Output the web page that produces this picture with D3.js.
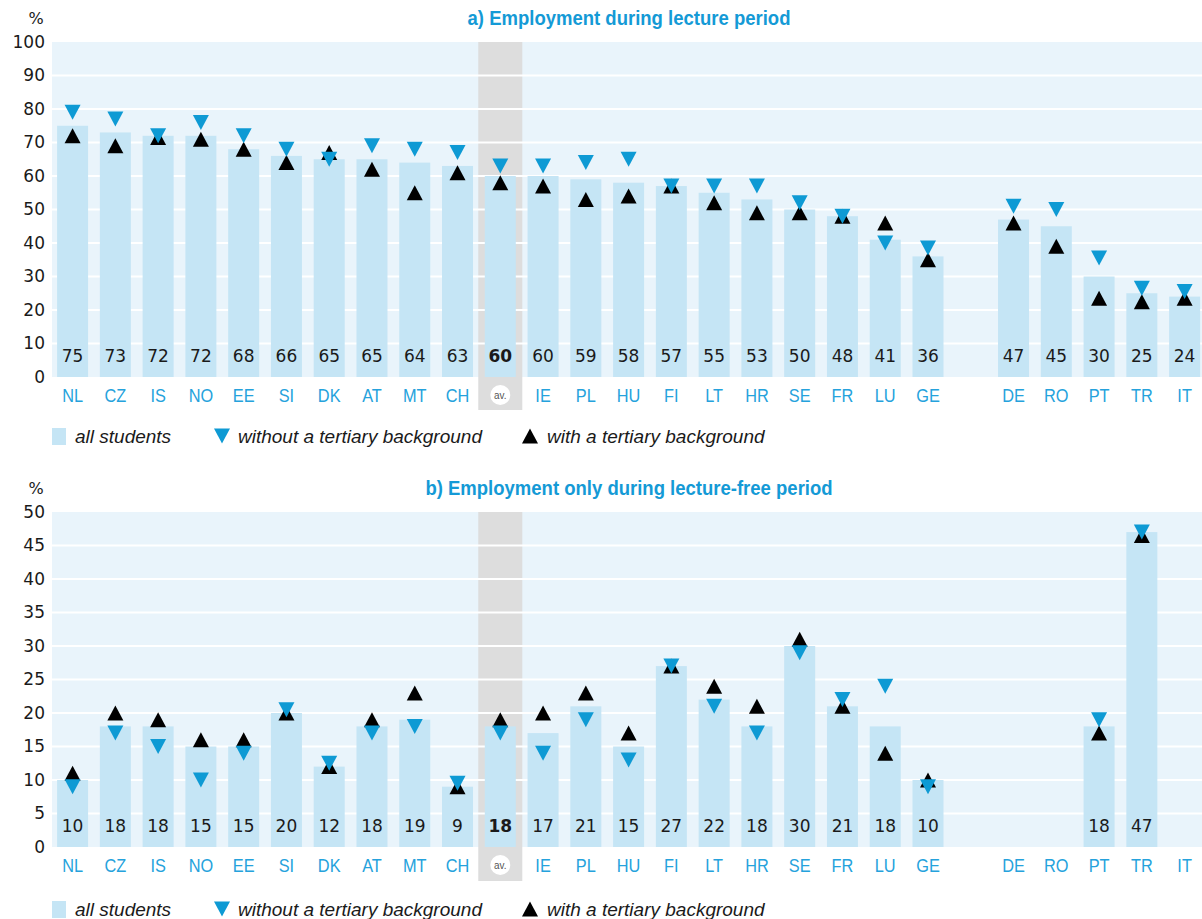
<!DOCTYPE html>
<html>
<head>
<meta charset="utf-8">
<script src="https://cdn.jsdelivr.net/npm/d3@7"></script>
<style>
  html, body { margin: 0; padding: 0; background: #ffffff; }
  svg { display: block; }
</style>
</head>
<body>
<svg id="chart" width="1202" height="919"></svg>
<script>
// Countries in display order; "av." is the average of all countries.
const countries = ["NL","CZ","IS","NO","EE","SI","DK","AT","MT","CH","av.","IE","PL","HU","FI","LT","HR","SE","FR","LU","GE","DE","RO","PT","TR","IT"];
// An empty slot separates GE from DE.
const gapAfter = "GE";

// a) Employment during lecture period (%)
const lectureAll     = [75,73,72,72,68,66,65,65,64,63,60,60,59,58,57,55,53,50,48,41,36,47,45,30,25,24];
const lectureWithout = [79,77,72,76,72,68,65,69,68,67,63,63,64,65,57,57,57,52,48,40,38.5,51,50,35.5,26.5,25.5];
const lectureWith    = [72,69,71.5,71,68,64,67,62,55,61,58,57,53,54,57,52,49,49,48,46,35,46,39,23.5,22.5,23.5];

// b) Employment only during lecture-free period (%)
const freeAll     = [10,18,18,15,15,20,12,18,19,9,18,17,21,15,27,22,18,30,21,18,10,null,null,18,47,null];
const freeWithout = [9,17,15,10,14,20.5,12.5,17,18,9.5,17,14,19,13,27,21,17,29,22,24,9,null,null,19,47,null];
const freeWith    = [11,20,19,16,16,20,12,19,23,9,19,20,23,17,27,24,21,31,21,14,10,null,null,17,46.5,null];

const lectureTicks = [0,10,20,30,40,50,60,70,80,90,100];
const freeTicks    = [0,5,10,15,20,25,30,35,40,45,50];

const legendLabels = ["all students", "without a tertiary background", "with a tertiary background"];

const COL = {
  plotBg: "#e9f4fb",
  bar: "#c5e5f5",
  grid: "#ffffff",
  avgBand: "#dddddd",
  down: "#0e9ad4",
  up: "#000000",
  title: "#149ad6",
  cat: "#25a2dc",
  text: "#1a1a1a"
};

const svg = d3.select("#chart");
const W = 1202;

// Band domain with a spacer slot
const slots = [];
countries.forEach(c => { slots.push(c); if (c === gapAfter) slots.push("__gap"); });

const x = d3.scaleBand()
  .domain(slots)
  .range([51.2, 1206])
  .paddingInner(0.275)
  .paddingOuter(0.1375);

const plotLeft = 52;

const downPath = "M-8,-7.5 L8,-7.5 L0,7.5 Z";
const upPath   = "M-8,7.5 L8,7.5 L0,-7.5 Z";

function drawPanel(opt) {
  const g = svg.append("g");
  const y = d3.scaleLinear().domain([0, opt.max]).range([opt.bottom, opt.top]);
  const zero = y(0);

  // percent unit and title
  g.append("text").attr("x", 36).attr("y", opt.top - 18)
    .attr("text-anchor", "middle")
    .style("font-family", "DejaVu Sans, sans-serif").style("font-size", "16px")
    .attr("fill", COL.text).text("%");
  g.append("text")
    .attr("transform", `translate(629,${opt.top - 17}) scale(0.95,1)`)
    .attr("text-anchor", "middle")
    .style("font-family", "Liberation Sans, Arial, sans-serif").style("font-size", "19.5px")
    .style("font-weight", "bold").attr("fill", COL.title).text(opt.title);

  // plot background
  g.append("rect").attr("x", plotLeft).attr("y", y(opt.max))
    .attr("width", W - plotLeft).attr("height", zero - y(opt.max))
    .attr("fill", COL.plotBg);

  // average band (extends below the axis labels)
  const avX = x("av.") + x.bandwidth() / 2;
  g.append("rect").attr("x", avX - 22).attr("y", y(opt.max))
    .attr("width", 44).attr("height", opt.bandBottom - y(opt.max))
    .attr("fill", COL.avgBand);

  // gridlines
  g.append("g").selectAll("line")
    .data(opt.ticks.filter(t => t > 0 && t < opt.max))
    .join("line")
    .attr("x1", plotLeft).attr("x2", W)
    .attr("y1", d => y(d)).attr("y2", d => y(d))
    .attr("stroke", COL.grid).attr("stroke-width", 2);

  // y axis labels
  const axis = d3.axisLeft(y).tickValues(opt.ticks).tickSize(0).tickPadding(0);
  const ax = g.append("g").attr("transform", `translate(45,0)`).call(axis);
  ax.select(".domain").remove();
  ax.selectAll("text")
    .style("font-family", "DejaVu Sans, sans-serif").style("font-size", "17px")
    .attr("fill", COL.text);

  // bars
  const rows = countries.map((c, i) => ({
    c, all: opt.all[i], without: opt.without[i], with: opt.with[i]
  }));

  g.append("g").selectAll("rect")
    .data(rows.filter(d => d.all != null))
    .join("rect")
    .attr("x", d => x(d.c)).attr("width", x.bandwidth())
    .attr("y", d => y(d.all)).attr("height", d => zero - y(d.all))
    .attr("fill", COL.bar);

  // value labels
  g.append("g").selectAll("text")
    .data(rows.filter(d => d.all != null))
    .join("text")
    .attr("x", d => x(d.c) + x.bandwidth() / 2)
    .attr("y", zero - 15)
    .attr("text-anchor", "middle")
    .style("font-family", "DejaVu Sans, sans-serif").style("font-size", "17px")
    .style("font-weight", d => d.c === "av." ? "bold" : "normal")
    .attr("fill", COL.text)
    .text(d => d.all);

  // markers: with tertiary background (up), without (down)
  g.append("g").selectAll("path")
    .data(rows.filter(d => d.with != null))
    .join("path")
    .attr("d", upPath)
    .attr("transform", d => `translate(${x(d.c) + x.bandwidth() / 2},${y(d.with)})`)
    .attr("fill", COL.up);
  g.append("g").selectAll("path")
    .data(rows.filter(d => d.without != null))
    .join("path")
    .attr("d", downPath)
    .attr("transform", d => `translate(${x(d.c) + x.bandwidth() / 2},${y(d.without)})`)
    .attr("fill", COL.down);

  // category labels (condensed)
  const catY = zero + 25;
  g.append("g").selectAll("text")
    .data(countries.filter(c => c !== "av."))
    .join("text")
    .attr("transform", c => `translate(${x(c) + x.bandwidth() / 2},${catY}) scale(0.86,1)`)
    .attr("text-anchor", "middle")
    .style("font-family", "Liberation Sans, Arial, sans-serif").style("font-size", "19px")
    .attr("fill", COL.cat)
    .text(c => c);
  g.append("circle").attr("cx", avX).attr("cy", catY - 7).attr("r", 10).attr("fill", "#ffffff");
  g.append("text")
    .attr("transform", `translate(${avX},${catY - 3.5}) scale(0.9,1)`)
    .attr("text-anchor", "middle")
    .style("font-family", "Liberation Sans, sans-serif").style("font-size", "11px")
    .attr("fill", "#555555").text("av.");

  // legend
  const ly = opt.legendY;
  const lg = g.append("g");
  lg.append("rect").attr("x", 52).attr("y", ly - 9).attr("width", 14).attr("height", 17).attr("fill", COL.bar);
  lg.append("path").attr("d", downPath).attr("transform", `translate(222,${ly - 1})`).attr("fill", COL.down);
  lg.append("path").attr("d", upPath).attr("transform", `translate(530,${ly - 1})`).attr("fill", COL.up);
  const lx = [75, 238, 547];
  lg.selectAll("text").data(legendLabels).join("text")
    .attr("x", (d, i) => lx[i]).attr("y", ly + 6)
    .style("font-family", "Liberation Sans, Arial, sans-serif").style("font-size", "19px")
    .style("font-style", "italic").attr("fill", COL.text)
    .text(d => d);
}

drawPanel({
  title: "a) Employment during lecture period",
  top: 42, bottom: 377, max: 100, ticks: lectureTicks,
  all: lectureAll, without: lectureWithout, with: lectureWith,
  bandBottom: 410, legendY: 437
});

drawPanel({
  title: "b) Employment only during lecture-free period",
  top: 512, bottom: 847, max: 50, ticks: freeTicks,
  all: freeAll, without: freeWithout, with: freeWith,
  bandBottom: 881, legendY: 910
});
</script>
</body>
</html>
